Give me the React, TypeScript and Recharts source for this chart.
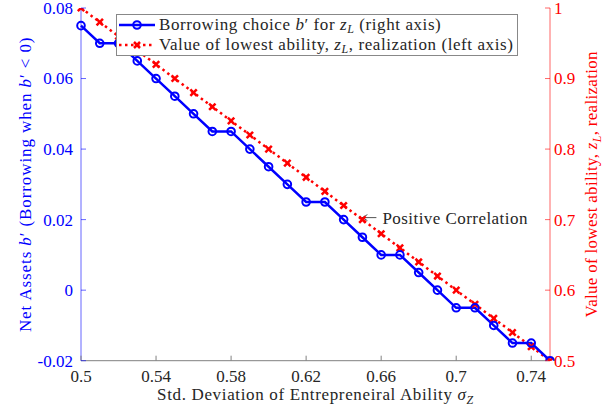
import React from 'react';
import { ComposedChart, Line, XAxis, YAxis, Legend, ReferenceDot, Label } from 'recharts';

const sigmaZ = [0.5, 0.51, 0.52, 0.53, 0.54, 0.55, 0.56, 0.57, 0.58, 0.59, 0.6, 0.61, 0.62, 0.63, 0.64, 0.65, 0.66, 0.67, 0.68, 0.69, 0.7, 0.71, 0.72, 0.73, 0.74, 0.75];
const borrowing = [0.075, 0.07, 0.07, 0.065, 0.06, 0.055, 0.05, 0.045, 0.045, 0.04, 0.035, 0.03, 0.025, 0.025, 0.02, 0.015, 0.01, 0.01, 0.005, 0.0, -0.005, -0.005, -0.01, -0.015, -0.015, -0.02];
const zLowest = [1.0, 0.98, 0.96, 0.94, 0.92, 0.9, 0.88, 0.86, 0.84, 0.82, 0.8, 0.78, 0.76, 0.74, 0.72, 0.7, 0.68, 0.66, 0.64, 0.62, 0.6, 0.58, 0.56, 0.54, 0.52, 0.5];
const xTicks = [0.5, 0.54, 0.58, 0.62, 0.66, 0.7, 0.74];
const leftTicks = [-0.02, 0, 0.02, 0.04, 0.06, 0.08];
const rightTicks = [0.5, 0.6, 0.7, 0.8, 0.9, 1];
const annotationX = 0.65;
const annotationZ = 0.7;

const data = sigmaZ.map((x, i) => ({ x, b: borrowing[i], z: zLowest[i] }));

const FONT = '"Liberation Serif", "Times New Roman", serif';
const BLUE = '#0000ff';
const RED = '#ff0000';
const GRAY = '#808080';
const TEXT = '#262626';
const FS = 17;

const BottomTick = (p: any) => (
  <g>
    <line x1={p.x} x2={p.x} y1={p.y} y2={p.y - 5} stroke={GRAY} strokeWidth={1} />
    <text x={p.x} y={p.y + 21} textAnchor="middle" fontFamily={FONT} fontSize={FS} fill={TEXT}>
      {String(p.payload.value)}
    </text>
  </g>
);

const TopTick = (p: any) => (
  <line x1={p.x} x2={p.x} y1={p.y} y2={p.y + 5} stroke={GRAY} strokeWidth={1} />
);

const LeftTick = (p: any) => (
  <g>
    <line x1={p.x} x2={p.x + 5} y1={p.y} y2={p.y} stroke={BLUE} strokeWidth={1} strokeOpacity={0.6} />
    <text x={p.x - 8} y={p.y} dy="0.35em" textAnchor="end" fontFamily={FONT} fontSize={FS} fill={BLUE}>
      {String(p.payload.value)}
    </text>
  </g>
);

const RightTick = (p: any) => (
  <g>
    <line x1={p.x} x2={p.x - 5} y1={p.y} y2={p.y} stroke={RED} strokeWidth={1} strokeOpacity={0.6} />
    <text x={p.x + 4} y={p.y} dy="0.35em" textAnchor="start" fontFamily={FONT} fontSize={FS} fill={RED}>
      {String(p.payload.value)}
    </text>
  </g>
);

const XTitle = (p: any) => {
  const vb = p.viewBox;
  return (
    <text x={vb.x + vb.width / 2} y={vb.y + 39} textAnchor="middle" fontFamily={FONT} fontSize={FS} letterSpacing={0.65} fill={TEXT}>
      Std. Deviation of Entrepreneiral Ability <tspan fontStyle="italic">σ</tspan>
      <tspan fontStyle="italic" fontSize={12} dy={4}>Z</tspan>
    </text>
  );
};

const LeftTitle = (p: any) => {
  const vb = p.viewBox;
  const cx = vb.x + 25;
  const cy = vb.y + vb.height / 2;
  return (
    <text x={cx} y={cy} dy="0.35em" textAnchor="middle" transform={`rotate(-90 ${cx} ${cy})`} fontFamily={FONT} fontSize={FS} letterSpacing={0.9} fill={BLUE}>
      Net Assets <tspan fontStyle="italic">b</tspan>′ (Borrowing when <tspan fontStyle="italic">b</tspan>′ &lt; 0)
    </text>
  );
};

const RightTitle = (p: any) => {
  const vb = p.viewBox;
  const cx = vb.x + 41;
  const cy = vb.y + vb.height / 2;
  return (
    <text x={cx} y={cy} dy="0.35em" textAnchor="middle" transform={`rotate(-90 ${cx} ${cy})`} fontFamily={FONT} fontSize={FS} letterSpacing={0.3} fill={RED}>
      Value of lowest ability, <tspan fontStyle="italic">z</tspan>
      <tspan fontStyle="italic" fontSize={12} dy={4}>L</tspan>
      <tspan dy={-4}>, realization</tspan>
    </text>
  );
};

const CrossDot = (p: any) => {
  const { cx, cy } = p;
  if (cx == null || cy == null) return <g />;
  const s = 3.2;
  return (
    <g key={`c-${p.index}`}>
      <line x1={cx - s} y1={cy - s} x2={cx + s} y2={cy + s} stroke={RED} strokeWidth={2.5} />
      <line x1={cx - s} y1={cy + s} x2={cx + s} y2={cy - s} stroke={RED} strokeWidth={2.5} />
    </g>
  );
};

const Annotation = (p: any) => {
  const { cx, cy } = p;
  const y = cy - 2;
  return (
    <g>
      <line x1={cx} y1={y} x2={cx + 14} y2={y} stroke={TEXT} strokeWidth={0.8} />
      <path d={`M ${cx + 5} ${y - 3} L ${cx} ${y} L ${cx + 5} ${y + 3}`} stroke={TEXT} strokeWidth={0.8} fill="none" />
      <text x={cx + 20} y={y} dy="0.35em" fontFamily={FONT} fontSize={FS} letterSpacing={0.45} fill={TEXT}>Positive Correlation</text>
    </g>
  );
};

const subStyle: React.CSSProperties = { fontSize: 12, fontStyle: 'italic', verticalAlign: '-3px', lineHeight: 0 };

const LegendContent = () => (
  <div
    style={{
      border: '1px solid #888',
      background: '#fff',
      fontFamily: FONT,
      fontSize: FS,
      letterSpacing: 0.58,
      color: TEXT,
      padding: '0px 4px 0px 1px',
      lineHeight: '20px',
      whiteSpace: 'nowrap',
    }}
  >
    <div style={{ display: 'flex', alignItems: 'center', height: 20 }}>
      <svg width={38} height={20} style={{ marginRight: 3 }}>
        <line x1={1} y1={10} x2={37} y2={10} stroke={BLUE} strokeWidth={2.5} />
        <circle cx={19} cy={10} r={3.8} stroke={BLUE} strokeWidth={2} fill="none" />
      </svg>
      <span>
        Borrowing choice <i>b</i>′ for <i>z</i><sub style={subStyle}>L</sub> (right axis)
      </span>
    </div>
    <div style={{ display: 'flex', alignItems: 'center', height: 20 }}>
      <svg width={38} height={20} style={{ marginRight: 3 }}>
        <line x1={1} y1={10} x2={37} y2={10} stroke={RED} strokeWidth={2.5} strokeDasharray="2.5 3.5" />
        <line x1={16} y1={7} x2={22} y2={13} stroke={RED} strokeWidth={2.5} />
        <line x1={16} y1={13} x2={22} y2={7} stroke={RED} strokeWidth={2.5} />
      </svg>
      <span>
        Value of lowest ability, <i>z</i><sub style={subStyle}>L</sub>, realization (left axis)
      </span>
    </div>
  </div>
);

export default function App() {
  return (
    <div style={{ position: 'absolute', left: 0, top: 0, background: '#fff' }}>
      <ComposedChart width={608} height={412} data={data} margin={{ top: 8, right: 0, bottom: 0, left: 0 }}>
        <XAxis
          dataKey="x"
          type="number"
          domain={[0.5, 0.75]}
          ticks={xTicks}
          height={51.3}
          tickSize={0}
          tickMargin={0}
          tick={<BottomTick />}
          tickLine={false}
          axisLine={{ stroke: GRAY }}
          interval={0}
        >
          <Label content={<XTitle />} />
        </XAxis>
        <XAxis
          xAxisId="top"
          orientation="top"
          dataKey="x"
          type="number"
          domain={[0.5, 0.75]}
          ticks={xTicks}
          height={0}
          tickSize={0}
          tickMargin={0}
          tick={<TopTick />}
          tickLine={false}
          axisLine={{ stroke: GRAY }}
          interval={0}
        />
        <YAxis
          yAxisId="left"
          orientation="left"
          type="number"
          domain={[-0.02, 0.08]}
          ticks={leftTicks}
          width={81}
          tickSize={0}
          tickMargin={0}
          tick={<LeftTick />}
          tickLine={false}
          axisLine={{ stroke: BLUE, strokeOpacity: 0.6 }}
          interval={0}
          allowDataOverflow
        >
          <Label content={<LeftTitle />} />
        </YAxis>
        <YAxis
          yAxisId="right"
          orientation="right"
          type="number"
          domain={[0.5, 1]}
          ticks={rightTicks}
          width={58}
          tickSize={0}
          tickMargin={0}
          tick={<RightTick />}
          tickLine={false}
          axisLine={{ stroke: RED, strokeOpacity: 0.6 }}
          interval={0}
          allowDataOverflow
        >
          <Label content={<RightTitle />} />
        </YAxis>
        <Line
          yAxisId="right"
          dataKey="z"
          stroke={RED}
          strokeWidth={2.5}
          strokeDasharray="2.5 3.5"
          dot={<CrossDot />}
          activeDot={false}
          isAnimationActive={false}
        />
        <Line
          yAxisId="left"
          dataKey="b"
          stroke={BLUE}
          strokeWidth={2.5}
          dot={{ r: 3.8, stroke: BLUE, strokeWidth: 2, fill: 'none' }}
          activeDot={false}
          isAnimationActive={false}
        />
        <ReferenceDot yAxisId="right" x={annotationX} y={annotationZ} r={0} shape={<Annotation />} />
        <Legend
          layout="horizontal"
          verticalAlign="middle"
          align="center"
          content={<LegendContent />}
          wrapperStyle={{ position: 'absolute', left: 116, top: 14, width: 'auto', height: 'auto' }}
        />
      </ComposedChart>
    </div>
  );
}
